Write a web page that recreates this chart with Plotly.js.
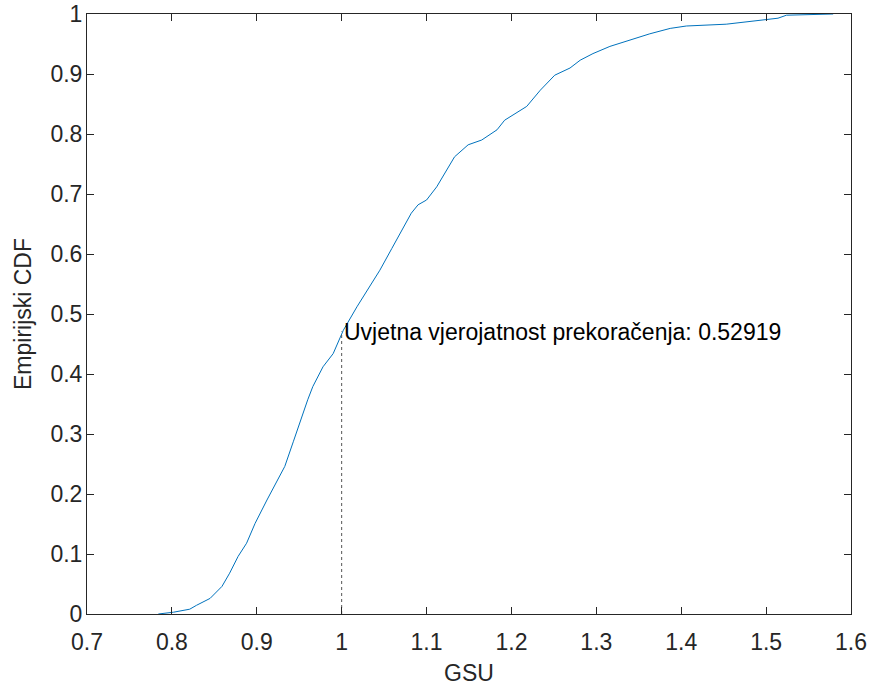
<!DOCTYPE html>
<html>
<head>
<meta charset="utf-8">
<script src="https://cdn.plot.ly/plotly-3.0.1.min.js"></script>
<style>html,body{margin:0;padding:0;background:#fff;}#chart{width:869px;height:686px;}</style>
</head>
<body>
<div id="chart"></div>
<script>
const gsuValues = [0.784, 0.802, 0.821, 0.829, 0.845, 0.859, 0.868, 0.878, 0.888, 0.898,
  0.912, 0.923, 0.933, 0.943, 0.953, 0.960, 0.966, 0.978, 0.990, 1.002,
  1.018, 1.033, 1.045, 1.059, 1.069, 1.082, 1.090, 1.100, 1.112,
  1.124, 1.133, 1.149, 1.165, 1.183, 1.192, 1.218, 1.234, 1.251, 1.269,
  1.281, 1.296, 1.316, 1.340, 1.363, 1.387, 1.406, 1.453, 1.485, 1.501,
  1.514, 1.524, 1.579];
const cdfValues = [0.000, 0.003, 0.008, 0.0145, 0.026, 0.046, 0.068, 0.096, 0.118, 0.151,
  0.190, 0.218, 0.246, 0.287, 0.330, 0.357, 0.379, 0.412, 0.434, 0.473,
  0.512, 0.546, 0.573, 0.609, 0.634, 0.668, 0.682, 0.690, 0.712,
  0.740, 0.762, 0.782, 0.790, 0.807, 0.823, 0.846, 0.873, 0.898, 0.910,
  0.923, 0.934, 0.946, 0.957, 0.967, 0.976, 0.980, 0.983, 0.988, 0.991,
  0.993, 0.998, 1.000];
const threshold = 1.0;
const exceedProb = 0.52919;
const annotationLabel = 'Uvjetna vjerojatnost prekoračenja: ';
const xTicks = [0.7, 0.8, 0.9, 1.0, 1.1, 1.2, 1.3, 1.4, 1.5, 1.6];
const yTicks = [0, 0.1, 0.2, 0.3, 0.4, 0.5, 0.6, 0.7, 0.8, 0.9, 1];

const axisColor = '#262626';
const font = {family: 'Arial, "Liberation Sans", sans-serif', size: 23, color: axisColor};

const traces = [
  {x: gsuValues, y: cdfValues, type: 'scatter', mode: 'lines',
   line: {color: '#0072BD', width: 1}, hoverinfo: 'skip'},
  {x: [threshold, threshold], y: [0, 1 - exceedProb], type: 'scatter', mode: 'lines',
   line: {color: '#555555', width: 1, dash: 'dot'}, hoverinfo: 'skip'}
];

const layout = {
  width: 869, height: 686,
  margin: {l: 87, r: 18, t: 14, b: 72},
  paper_bgcolor: '#fff', plot_bgcolor: '#fff',
  showlegend: false,
  font: font,
  xaxis: {
    range: [0.7, 1.6], tickvals: xTicks, ticks: 'inside', ticklen: 7, tickcolor: axisColor,
    showline: true, linecolor: axisColor, linewidth: 1, mirror: 'ticks',
    showgrid: false, zeroline: false, tickfont: font, ticklabelstandoff: 7,
    title: {text: 'GSU', font: font, standoff: 18}
  },
  yaxis: {
    range: [0, 1], tickvals: yTicks, ticks: 'inside', ticklen: 7, tickcolor: axisColor,
    showline: true, linecolor: axisColor, linewidth: 1, mirror: 'ticks',
    showgrid: false, zeroline: false, tickfont: font, ticklabelstandoff: -1,
    title: {text: 'Empirijski CDF', font: font, standoff: 12}
  },
  annotations: [{
    x: threshold, y: 1 - exceedProb, xref: 'x', yref: 'y',
    text: annotationLabel + exceedProb, showarrow: false,
    xanchor: 'left', yanchor: 'middle', font: {family: font.family, size: 23, color: '#000'}
  }]
};

Plotly.newPlot('chart', traces, layout, {staticPlot: true, displayModeBar: false});
</script>
</body>
</html>
